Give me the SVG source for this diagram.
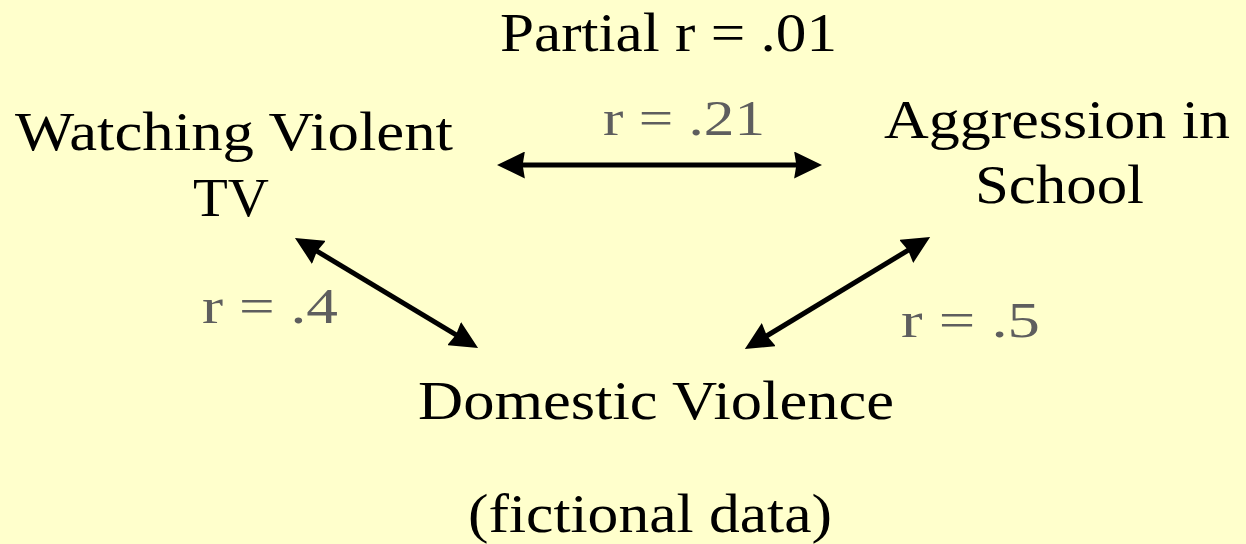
<svg xmlns="http://www.w3.org/2000/svg" width="1246" height="544" viewBox="0 0 1246 544">
<style>
.t{font-family:"Liberation Serif","Times New Roman",serif;font-size:55px;fill:#000}
.r{font-family:"Liberation Serif","Times New Roman",serif;font-size:50px;fill:#5e5e5e}
.c{stroke:#000;stroke-width:5;fill:none;marker-start:url(#ah);marker-end:url(#ah)}
</style>
<defs>
<marker id="ah" viewBox="0 0 10 10" refX="7.1" refY="5" markerWidth="28" markerHeight="27" markerUnits="userSpaceOnUse" orient="auto-start-reverse" preserveAspectRatio="none">
<path d="M0,0 L10,5 L0,10 L0.8,5 Z" fill="#000"/>
</marker>
</defs>
<rect width="1246" height="544" fill="#FFFFCC"/>
<g id="title"><text class="t" x="500" y="51" textLength="337" lengthAdjust="spacingAndGlyphs">Partial r = .01</text></g>
<g id="tv"><text class="t" x="15" y="150" textLength="438" lengthAdjust="spacingAndGlyphs">Watching Violent</text><text class="t" x="193" y="216" textLength="76" lengthAdjust="spacingAndGlyphs">TV</text></g>
<g id="agg"><text class="t" x="884" y="138" textLength="346" lengthAdjust="spacingAndGlyphs">Aggression in</text><text class="t" x="975" y="203" textLength="169" lengthAdjust="spacingAndGlyphs">School</text></g>
<g id="dom"><text class="t" x="418" y="419" textLength="476" lengthAdjust="spacingAndGlyphs">Domestic Violence</text></g>
<g id="note"><text class="t" x="468" y="532" textLength="364" lengthAdjust="spacingAndGlyphs">(fictional data)</text></g>
<g id="connectors">
<line class="c" x1="505" y1="165" x2="814" y2="165"/>
<line class="c" x1="301.9" y1="242.1" x2="471.1" y2="343.9"/>
<line class="c" x1="923.2" y1="241.1" x2="751.8" y2="344.9"/>
</g>
<g id="labels">
<text class="r" x="603" y="135" textLength="162" lengthAdjust="spacingAndGlyphs">r = .21</text>
<text class="r" x="202" y="323" textLength="136" lengthAdjust="spacingAndGlyphs">r = .4</text>
<text class="r" x="901" y="337" textLength="139" lengthAdjust="spacingAndGlyphs">r = .5</text>
</g>
</svg>
